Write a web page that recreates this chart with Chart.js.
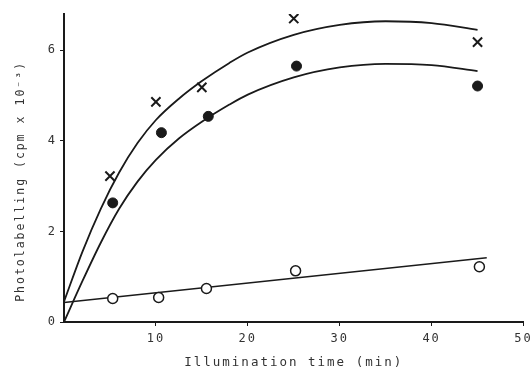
<!DOCTYPE html>
<html>
<head>
    <title>Photolabelling vs illumination time</title>
    <script src="https://cdn.jsdelivr.net/npm/chart.js"></script>
    <style>
        body {
            margin: 0;
            background: #fff;
        }
        #wrap {
            width: 532px;
            height: 378px;
        }
    </style>
</head>
<body>
    <div id="wrap"><canvas id="photoChart" width="532" height="378"></canvas></div>

    <script>
        // measured points (min, cpm x 10^-3)
        const crossX = [5, 10, 15, 25, 45];
        const crossY = [3.22, 4.86, 5.18, 6.70, 6.18];
        const filledX = [5.3, 10.6, 15.7, 25.3, 45];
        const filledY = [2.63, 4.18, 4.54, 5.65, 5.21];
        const openX = [5.3, 10.3, 15.5, 25.2, 45.2];
        const openY = [0.52, 0.54, 0.74, 1.13, 1.22];

        // hand drawn fit curves
        const fitX = [0, 2, 4, 6, 8, 10, 12.5, 15, 18, 20, 25, 30, 35, 40, 45];
        const upperFitY = [0.45, 1.55, 2.5, 3.3, 3.95, 4.46, 4.93, 5.32, 5.72, 5.95, 6.34, 6.56, 6.64, 6.6, 6.45];
        const lowerFitY = [0, 0.9, 1.75, 2.5, 3.1, 3.58, 4.05, 4.42, 4.8, 5.02, 5.4, 5.62, 5.7, 5.67, 5.54];
        const openFitX = [0, 46];
        const openFitY = [0.43, 1.42];

        const xTicks = [10, 20, 30, 40, 50];
        const yTicks = [0, 2, 4, 6];

        const pts = (xs, ys) => xs.map((x, i) => ({ x: x, y: ys[i] }));
        const ink = '#1a1a1a';

        const spacing = {
            id: 'spacing',
            beforeDraw(chart) {
                chart.ctx.letterSpacing = '2px';
            }
        };

        new Chart(document.getElementById('photoChart'), {
            type: 'scatter',
            data: {
                datasets: [
                    {
                        data: pts(crossX, crossY),
                        pointStyle: 'crossRot',
                        pointRadius: 6.5,
                        borderColor: ink,
                        borderWidth: 2
                    },
                    {
                        data: pts(filledX, filledY),
                        pointStyle: 'circle',
                        pointRadius: 5,
                        backgroundColor: ink,
                        borderColor: ink,
                        borderWidth: 1
                    },
                    {
                        data: pts(openX, openY),
                        pointStyle: 'circle',
                        pointRadius: 5,
                        backgroundColor: '#fff',
                        borderColor: ink,
                        borderWidth: 1.5
                    },
                    {
                        type: 'line',
                        data: pts(fitX, upperFitY),
                        showLine: true,
                        pointRadius: 0,
                        borderColor: ink,
                        borderWidth: 1.8,
                        cubicInterpolationMode: 'monotone'
                    },
                    {
                        type: 'line',
                        data: pts(fitX, lowerFitY),
                        showLine: true,
                        pointRadius: 0,
                        borderColor: ink,
                        borderWidth: 1.8,
                        cubicInterpolationMode: 'monotone'
                    },
                    {
                        type: 'line',
                        data: pts(openFitX, openFitY),
                        showLine: true,
                        pointRadius: 0,
                        borderColor: ink,
                        borderWidth: 1.5
                    }
                ]
            },
            options: {
                responsive: false,
                animation: false,
                layout: { padding: { top: 14, right: 8, left: 0, bottom: 0 } },
                plugins: {
                    legend: { display: false },
                    tooltip: { enabled: false }
                },
                scales: {
                    x: {
                        type: 'linear',
                        min: 0,
                        max: 50,
                        afterFit: s => { s.height = 56; s.paddingRight = 2; },
                        afterBuildTicks: s => { s.ticks = xTicks.map(v => ({ value: v })); },
                        border: { color: ink, width: 2 },
                        grid: { display: true, drawOnChartArea: false, tickLength: 4, color: ink },
                        ticks: {
                            color: '#333',
                            padding: 6,
                            maxRotation: 0,
                            font: { family: 'DejaVu Sans Mono', size: 12 }
                        },
                        title: {
                            display: true,
                            text: 'Illumination time (min)',
                            color: '#333',
                            padding: { top: 4, bottom: 8 },
                            font: { family: 'DejaVu Sans Mono', size: 12.5 }
                        }
                    },
                    y: {
                        min: 0,
                        max: 6.8,
                        afterFit: s => { s.width = 64; },
                        afterBuildTicks: s => { s.ticks = yTicks.map(v => ({ value: v })); },
                        border: { color: ink, width: 2 },
                        grid: { display: true, drawOnChartArea: false, tickLength: 4, color: ink },
                        ticks: {
                            color: '#333',
                            padding: 3,
                            font: { family: 'DejaVu Sans Mono', size: 12 }
                        },
                        title: {
                            display: true,
                            text: 'Photolabelling (cpm x 10\u207B\u00B3)   ',
                            color: '#333',
                            padding: { top: 14, bottom: 4 },
                            font: { family: 'DejaVu Sans Mono', size: 11.5 }
                        }
                    }
                }
            },
            plugins: [spacing]
        });
    </script>
</body>
</html>
